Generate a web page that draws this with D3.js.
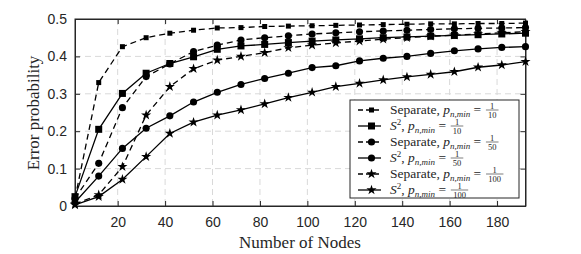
<!DOCTYPE html>
<html lang="en">
<head>
<meta charset="UTF-8">
<title>Error probability vs number of nodes</title>
<script src="https://d3js.org/d3.v7.min.js"></script>
<style>
  body { margin: 0; background: #fff; }
  .tick text { font-family: "Liberation Sans", Arial, sans-serif; font-size: 14px; fill: #262626; }
  .lab { font-family: "Liberation Serif", "DejaVu Serif", serif; fill: #262626; }
</style>
</head>
<body>
<div id="chart"></div>
<script>
// node counts
var nodes = [2, 12, 22, 32, 42, 52, 62, 72, 82, 92, 102, 112, 122, 132, 142, 152, 162, 172, 182, 192];

// error probability per scheme
var sep10  = [0.02, 0.33, 0.426, 0.45, 0.462, 0.47, 0.476, 0.477, 0.48, 0.481, 0.482, 0.483, 0.484, 0.485, 0.486, 0.487, 0.487, 0.488, 0.488, 0.489];
var s2_10  = [0.025, 0.205, 0.301, 0.355, 0.381, 0.399, 0.419, 0.428, 0.432, 0.437, 0.441, 0.444, 0.447, 0.45, 0.452, 0.454, 0.456, 0.458, 0.46, 0.462];
var sep50  = [0.02, 0.114, 0.263, 0.346, 0.38, 0.413, 0.43, 0.444, 0.45, 0.455, 0.46, 0.463, 0.466, 0.468, 0.47, 0.472, 0.474, 0.475, 0.476, 0.477];
var s2_50  = [0.01, 0.08, 0.154, 0.208, 0.241, 0.278, 0.304, 0.325, 0.341, 0.355, 0.37, 0.375, 0.388, 0.395, 0.40, 0.408, 0.415, 0.42, 0.424, 0.426];
var sep100 = [0.005, 0.03, 0.105, 0.243, 0.319, 0.367, 0.39, 0.40, 0.41, 0.423, 0.43, 0.436, 0.441, 0.446, 0.45, 0.454, 0.457, 0.46, 0.463, 0.466];
var s2_100 = [0.003, 0.025, 0.071, 0.132, 0.194, 0.224, 0.243, 0.257, 0.273, 0.29, 0.304, 0.319, 0.328, 0.337, 0.345, 0.352, 0.359, 0.371, 0.377, 0.386];

var xTicks = [20, 40, 60, 80, 100, 120, 140, 160, 180];
var yTicks = [0, 0.1, 0.2, 0.3, 0.4, 0.5];

var series = [
  {name: "Separate", den: "10",  vals: sep10,  dash: "6,4", shape: d3.symbolSquare, size: 25},
  {name: "S2",       den: "10",  vals: s2_10,  dash: null,  shape: d3.symbolSquare, size: 49},
  {name: "Separate", den: "50",  vals: sep50,  dash: "6,4", shape: d3.symbolCircle, size: 40},
  {name: "S2",       den: "50",  vals: s2_50,  dash: null,  shape: d3.symbolCircle, size: 40},
  {name: "Separate", den: "100", vals: sep100, dash: "6,4", shape: d3.symbolStar,   size: 32},
  {name: "S2",       den: "100", vals: s2_100, dash: null,  shape: d3.symbolStar,   size: 32}
];

var W = 581, H = 254;
var pLeft = 75, pRight = 525.5, pTop = 19, pBottom = 206;

var svg = d3.select("#chart").append("svg")
    .attr("width", W)
    .attr("height", H);

var x = d3.scaleLinear().domain([2, 192]).range([pLeft, pRight]);
var y = d3.scaleLinear().domain([0, 0.5]).range([pBottom, pTop]);

// grid
var grid = svg.append("g");
grid.selectAll(".gx").data(xTicks).enter().append("line")
    .attr("x1", function(d) { return x(d); }).attr("x2", function(d) { return x(d); })
    .attr("y1", pTop).attr("y2", pBottom)
    .attr("stroke", "#d9d9d9").attr("stroke-width", 1).attr("stroke-dasharray", "6,4");
grid.selectAll(".gy").data(yTicks.slice(1, -1)).enter().append("line")
    .attr("y1", function(d) { return y(d); }).attr("y2", function(d) { return y(d); })
    .attr("x1", pLeft).attr("x2", pRight)
    .attr("stroke", "#d9d9d9").attr("stroke-width", 1).attr("stroke-dasharray", "6,4");

// axes, ticks inside on all four sides
svg.append("g")
    .attr("transform", "translate(0," + pBottom + ")")
    .call(d3.axisBottom(x).tickValues(xTicks).tickSizeInner(-5).tickSizeOuter(0).tickPadding(11));
svg.append("g")
    .attr("transform", "translate(" + pLeft + ",0)")
    .call(d3.axisLeft(y).tickValues(yTicks).tickSizeInner(-5).tickSizeOuter(0).tickPadding(8)
      .tickFormat(function(d) { return d === 0 ? "0" : d3.format(".1f")(d); }));
svg.append("g")
    .attr("transform", "translate(0," + pTop + ")")
    .call(d3.axisTop(x).tickValues(xTicks).tickSizeInner(-5).tickSizeOuter(0).tickFormat(""));
svg.append("g")
    .attr("transform", "translate(" + pRight + ",0)")
    .call(d3.axisRight(y).tickValues(yTicks).tickSizeInner(-5).tickSizeOuter(0).tickFormat(""));
svg.selectAll(".domain").attr("stroke", "#262626");
svg.selectAll(".tick line").attr("stroke", "#262626");

svg.append("rect")
    .attr("x", pLeft).attr("y", pTop)
    .attr("width", pRight - pLeft).attr("height", pBottom - pTop)
    .attr("fill", "none").attr("stroke", "#262626").attr("stroke-width", 1);

// series
var line = d3.line()
    .x(function(d, i) { return x(nodes[i]); })
    .y(function(d) { return y(d); });

var plot = svg.append("g");
series.forEach(function(s) {
  plot.append("path")
      .datum(s.vals)
      .attr("d", line)
      .attr("fill", "none")
      .attr("stroke", "#000")
      .attr("stroke-width", 1.3)
      .attr("stroke-dasharray", s.dash);
  plot.selectAll(null).data(s.vals).enter().append("path")
      .attr("d", d3.symbol().type(s.shape).size(s.size))
      .attr("transform", function(d, i) { return "translate(" + x(nodes[i]) + "," + y(d) + ")"; })
      .attr("fill", "#000");
});

// axis labels
svg.append("text").attr("class", "lab")
    .attr("x", 300).attr("y", 248)
    .attr("text-anchor", "middle").attr("font-size", 17)
    .text("Number of Nodes");
svg.append("text").attr("class", "lab")
    .attr("transform", "translate(39,113) rotate(-90)")
    .attr("text-anchor", "middle").attr("font-size", 17)
    .text("Error probability");

// legend
var lg = svg.append("g");
var lx = 350, ly = 100, lw = 169, lh = 98;
lg.append("rect")
    .attr("x", lx).attr("y", ly).attr("width", lw).attr("height", lh)
    .attr("fill", "#fff").attr("stroke", "#262626").attr("stroke-width", 1);

series.forEach(function(s, i) {
  var cy = ly + 10 + i * 16;
  lg.append("line")
      .attr("x1", lx + 8).attr("x2", lx + 31)
      .attr("y1", cy).attr("y2", cy)
      .attr("stroke", "#000").attr("stroke-width", 1.3)
      .attr("stroke-dasharray", s.dash ? "5,3" : null);
  lg.append("path")
      .attr("d", d3.symbol().type(s.shape).size(s.size))
      .attr("transform", "translate(" + (lx + 21.5) + "," + cy + ")")
      .attr("fill", "#000");

  var t = lg.append("text").attr("class", "lab")
      .attr("x", lx + 40).attr("y", cy + 4)
      .attr("font-size", 13.5);
  if (s.name === "S2") {
    t.append("tspan").attr("font-style", "italic").text("S");
    t.append("tspan").attr("font-size", 9).attr("dy", -5).text("2");
    t.append("tspan").attr("dy", 5).text(", ");
  } else {
    t.append("tspan").text("Separate, ");
  }
  t.append("tspan").attr("font-style", "italic").text("p");
  t.append("tspan").attr("font-style", "italic").attr("font-size", 9).attr("dy", 2.5).text("n,min");
  t.append("tspan").attr("dy", -2.5).text(" =");

  var bb = t.node().getBBox();
  var fx = bb.x + bb.width + 6 + s.den.length * 2.5;
  lg.append("text").attr("class", "lab")
      .attr("x", fx).attr("y", cy - 1.5)
      .attr("text-anchor", "middle").attr("font-size", 8.5)
      .text("1");
  lg.append("line")
      .attr("x1", fx - (s.den.length * 2.4 + 1.5)).attr("x2", fx + (s.den.length * 2.4 + 1.5))
      .attr("y1", cy).attr("y2", cy)
      .attr("stroke", "#262626").attr("stroke-width", 0.6);
  lg.append("text").attr("class", "lab")
      .attr("x", fx).attr("y", cy + 7.5)
      .attr("text-anchor", "middle").attr("font-size", 8.5)
      .text(s.den);
});
</script>
</body>
</html>
